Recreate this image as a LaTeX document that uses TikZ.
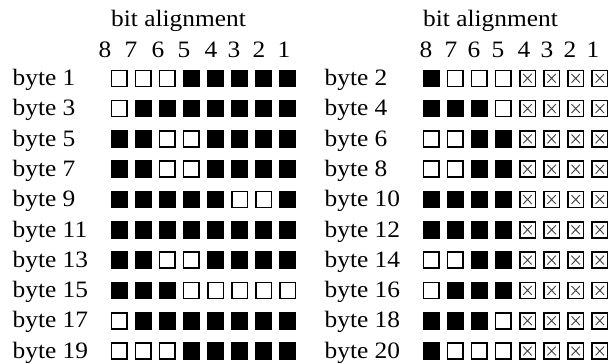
\documentclass[tikz,border=0pt]{standalone}
\usepackage{fontspec}
\setmainfont[FakeStretch=1.08]{Liberation Serif}
\tikzset{
  txt/.style={inner sep=0, font=\fontsize{23.5}{24}\selectfont},
  lbl/.style={txt, anchor=base west},
  dig/.style={txt, anchor=base},
  cell/.style={rectangle, inner sep=0, minimum width=15.6, minimum height=16, line width=1.6pt, draw=black},
  c0/.style={fill=white},
  c1/.style={fill=black},
  cx/.style={fill=white, path picture={
      \draw[line width=0.9pt, black!75]
        ([shift={(3.6,3.6)}]path picture bounding box.north west) -- ([shift={(-3.6,-3.6)}]path picture bounding box.south east)
        ([shift={(-3.6,3.6)}]path picture bounding box.north east) -- ([shift={(3.6,-3.6)}]path picture bounding box.south west);}},
}
% #1 byte number, #2 row index, #3 left edge of first square, #4 bits 8..1
\newcommand\bitrow[4]{%
  \node[lbl] (lab#1) at ({#3-98}, {85.5+30.3*#2}) {byte #1};
  \foreach \b [count=\c from 0] in {#4} {
    \node[cell, c\b] (s#1-\c) at ({#3+8.6+24.1*\c}, {78.3+30.3*#2}) {};
  }
}
\begin{document}
\begin{tikzpicture}[x=1pt, y=-1pt]
\useasboundingbox (0,0) rectangle (611,364);
% headers
\node[lbl] (hl) at (111,26) {bit alignment};
\node[lbl] (hr) at (423,26) {bit alignment};
\foreach \d/\x in {8/105,7/131,6/158,5/184,4/211,3/234,2/259,1/284}
  \node[dig] (dl\d) at (\x,57) {\d};
\foreach \d/\x in {8/426,7/451,6/474,5/498,4/524,3/547,2/570,1/593}
  \node[dig] (dr\d) at (\x,57) {\d};
% left column
\bitrow{1}{0}{110.5}{0,0,0,1,1,1,1,1}
\bitrow{3}{1}{110.5}{0,1,1,1,1,1,1,1}
\bitrow{5}{2}{110.5}{1,1,0,0,1,1,1,1}
\bitrow{7}{3}{110.5}{1,1,0,0,1,1,1,1}
\bitrow{9}{4}{110.5}{1,1,1,1,1,0,0,1}
\bitrow{11}{5}{110.5}{1,1,1,1,1,1,1,1}
\bitrow{13}{6}{110.5}{1,1,0,0,1,1,1,1}
\bitrow{15}{7}{110.5}{1,1,1,0,0,0,0,0}
\bitrow{17}{8}{110.5}{0,1,1,1,1,1,1,1}
\bitrow{19}{9}{110.5}{0,0,0,1,1,1,1,1}
% right column
\bitrow{2}{0}{422.5}{1,0,0,0,x,x,x,x}
\bitrow{4}{1}{422.5}{1,1,1,0,x,x,x,x}
\bitrow{6}{2}{422.5}{0,0,1,1,x,x,x,x}
\bitrow{8}{3}{422.5}{0,0,1,1,x,x,x,x}
\bitrow{10}{4}{422.5}{1,1,1,1,x,x,x,x}
\bitrow{12}{5}{422.5}{1,1,1,1,x,x,x,x}
\bitrow{14}{6}{422.5}{0,0,1,1,x,x,x,x}
\bitrow{16}{7}{422.5}{0,1,1,1,x,x,x,x}
\bitrow{18}{8}{422.5}{1,1,1,0,x,x,x,x}
\bitrow{20}{9}{422.5}{1,0,0,0,x,x,x,x}
\end{tikzpicture}
\end{document}
